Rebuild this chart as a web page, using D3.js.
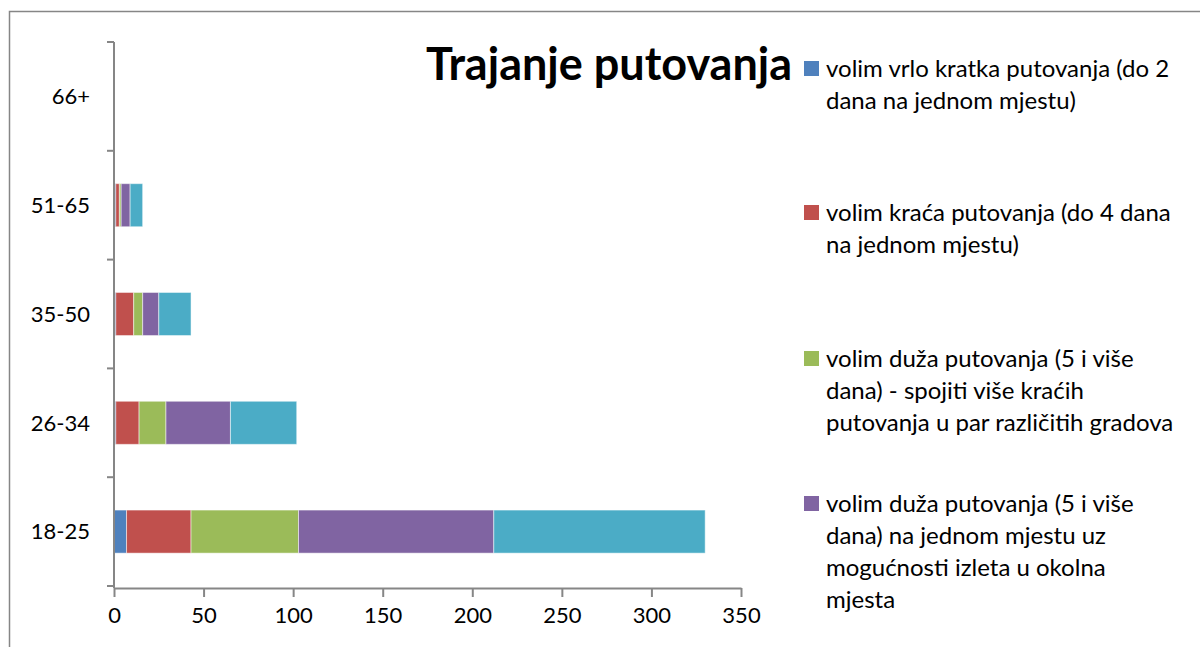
<!DOCTYPE html>
<html>
<head>
<meta charset="utf-8">
<script src="https://cdn.jsdelivr.net/npm/d3@7"></script>
<style>
  body { margin: 0; background: #fff; }
  svg { display: block; }
</style>
</head>
<body>
<script>
// age groups, bottom to top
var categories = ["18-25", "26-34", "35-50", "51-65", "66+"];
var seriesNames = [
  "volim vrlo kratka putovanja (do 2 dana na jednom mjestu)",
  "volim kraća putovanja (do 4 dana na jednom mjestu)",
  "volim duža putovanja (5 i više dana) - spojiti više kraćih putovanja u par različitih gradova",
  "volim duža putovanja  (5 i više dana) na jednom mjestu uz mogućnosti izleta u okolna mjesta",
  "ostalo"
];
var vrloKratka = [7, 1, 1, 1, 0];
var kraca = [36, 13, 10, 2, 0];
var duzaGradovi = [60, 15, 5, 1, 0];
var duzaJednoMjesto = [109, 36, 9, 5, 0];
var ostalo = [118, 37, 18, 7, 0];
var xTicks = [0, 50, 100, 150, 200, 250, 300, 350];
var colors = ["#4F81BD", "#C0504D", "#9BBB59", "#8064A2", "#4BACC6"];

// legend text lines, as wrapped in the picture
var legendLines = [
  ["volim vrlo kratka putovanja (do 2", "dana na jednom mjestu)"],
  ["volim kraća putovanja (do 4 dana", "na jednom mjestu)"],
  ["volim duža putovanja (5 i više", "dana) - spojiti više kraćih", "putovanja u par različitih gradova"],
  ["volim duža putovanja  (5 i više", "dana) na jednom mjestu uz", "mogućnosti izleta u okolna", "mjesta"]
];
var legendBaseline = [77, 221, 367, 512];

var W = 1200, H = 647;
var font = "Lato, 'Open Sans', sans-serif";
var axisColor = "#868686";

var svg = d3.select("body").append("svg")
  .attr("width", W)
  .attr("height", H);

// chart frame (only top and left visible)
svg.append("rect")
  .attr("x", 9.5).attr("y", 11.5)
  .attr("width", W + 20).attr("height", H + 20)
  .attr("fill", "none")
  .attr("stroke", axisColor)
  .attr("stroke-width", 1.5);

var series = [vrloKratka, kraca, duzaGradovi, duzaJednoMjesto, ostalo];
var rows = categories.map(function(c, i) {
  var r = { cat: c };
  series.forEach(function(s, k) { r["s" + k] = s[i]; });
  return r;
});
var keys = series.map(function(s, k) { return "s" + k; });
var stacked = d3.stack().keys(keys)(rows);

var x = d3.scaleLinear().domain([0, 350]).range([114, 741]);
var y = d3.scaleBand().domain(categories).range([586, 42])
  .paddingInner(0.604).paddingOuter(0.302);

// bars
svg.append("g").selectAll("g")
  .data(stacked)
  .join("g")
  .attr("fill", function(d, i) { return colors[i]; })
  .selectAll("rect")
  .data(function(d) { return d; })
  .join("rect")
  .attr("x", function(d) { return x(d[0]); })
  .attr("y", function(d) { return y(d.data.cat); })
  .attr("width", function(d) { return x(d[1]) - x(d[0]); })
  .attr("height", y.bandwidth())
  .attr("stroke", "#fff")
  .attr("stroke-opacity", 0.5)
  .attr("stroke-width", 1);

// x axis
var xAxis = svg.append("g")
  .attr("transform", "translate(0,588)")
  .call(d3.axisBottom(x).tickValues(xTicks).tickSize(9).tickSizeOuter(0).tickPadding(10));
xAxis.selectAll("path, line").attr("stroke", axisColor).attr("stroke-width", 2);
xAxis.selectAll("text")
  .attr("fill", "#000")
  .style("font-family", font)
  .style("font-size", "22px");

// y axis with ticks between categories
var yAxis = svg.append("g");
yAxis.append("line")
  .attr("x1", x(0)).attr("x2", x(0))
  .attr("y1", 42).attr("y2", 588)
  .attr("stroke", axisColor).attr("stroke-width", 2);
var step = y.step();
d3.range(categories.length + 1).forEach(function(i) {
  var yy = 586 - i * step;
  yAxis.append("line")
    .attr("x1", x(0) - 7).attr("x2", x(0))
    .attr("y1", yy).attr("y2", yy)
    .attr("stroke", axisColor).attr("stroke-width", 2);
});
yAxis.selectAll("text.cat")
  .data(categories)
  .join("text")
  .attr("class", "cat")
  .attr("x", 90)
  .attr("y", function(d) { return y(d) + y.bandwidth() / 2; })
  .attr("dy", "0.35em")
  .attr("text-anchor", "end")
  .style("font-family", font)
  .style("font-size", "22px")
  .text(function(d) { return d; });

// title
svg.append("text")
  .attr("x", 609).attr("y", 80)
  .attr("text-anchor", "middle")
  .style("font-family", font)
  .style("font-weight", "bold")
  .style("font-size", "45px")
  .text("Trajanje putovanja");

// legend
var legend = svg.append("g");
legendLines.forEach(function(lines, i) {
  var g = legend.append("g");
  g.append("rect")
    .attr("x", 804).attr("y", legendBaseline[i] - 16)
    .attr("width", 15).attr("height", 15)
    .attr("fill", colors[i]);
  g.append("text")
    .attr("x", 826).attr("y", legendBaseline[i])
    .style("font-family", font)
    .style("font-size", "24px")
    .selectAll("tspan")
    .data(lines)
    .join("tspan")
    .attr("x", 826)
    .attr("dy", function(d, j) { return j === 0 ? 0 : 32; })
    .text(function(d) { return d; });
});
</script>
</body>
</html>
